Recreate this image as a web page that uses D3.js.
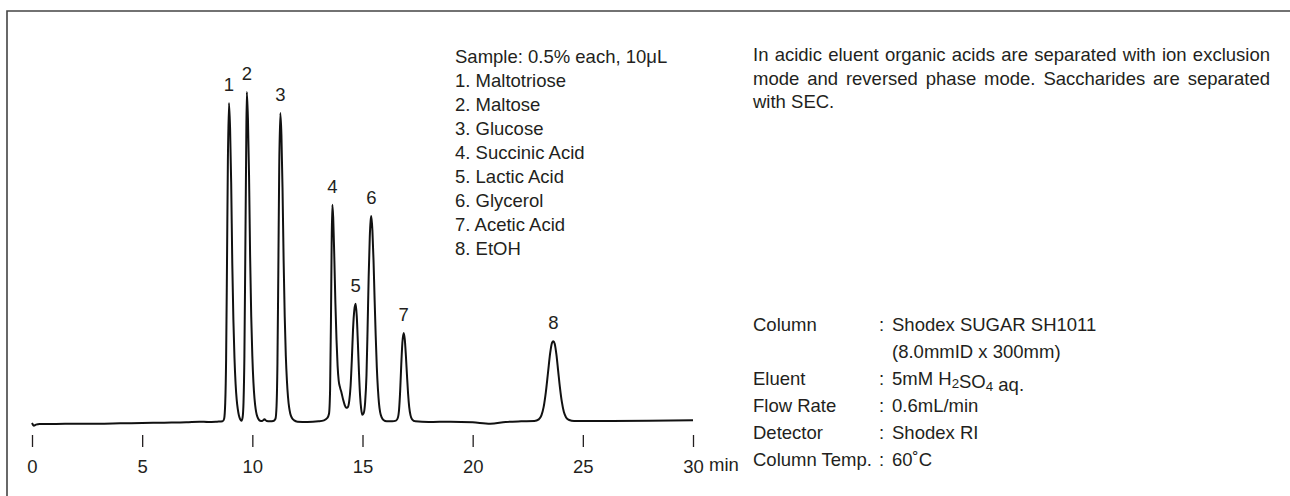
<!DOCTYPE html>
<html>
<head>
<meta charset="utf-8">
<script src="https://cdn.jsdelivr.net/npm/d3@7"></script>
<style>
  html, body { margin: 0; padding: 0; background: #fff; }
  svg { display: block; }
  text { font-family: "Liberation Sans", Arial, Helvetica, sans-serif; fill: #231f20; }
</style>
</head>
<body>
<svg id="chart" width="1290" height="496"></svg>
<script>
// ---------------- DATA ----------------
// Retention time (min) of each sampled point of the chromatogram trace
const traceTime = [
  0.00, 0.08, 0.18, 0.35, 1.0, 2.0, 3.0, 4.0, 5.0, 6.0, 7.0, 7.6, 8.0, 8.4, 8.65,
  8.72, 8.77, 8.81, 8.85, 8.89, 8.94, 8.99, 9.04, 9.09, 9.14, 9.19, 9.24, 9.29, 9.34, 9.39, 9.45, 9.51,
  9.56, 9.60, 9.64, 9.68, 9.72, 9.75, 9.80, 9.85, 9.90, 9.95, 10.00, 10.05, 10.10, 10.15, 10.20, 10.27, 10.35, 10.45, 10.55, 10.65, 10.80, 10.95,
  11.05, 11.10, 11.14, 11.18, 11.22, 11.27, 11.32, 11.37, 11.42, 11.47, 11.52, 11.57, 11.62, 11.67, 11.72, 11.80, 11.90, 12.05, 12.5, 13.0, 13.25, 13.40,
  13.48, 13.53, 13.57, 13.60, 13.63, 13.67, 13.72, 13.77, 13.82, 13.87, 13.92, 13.98, 14.05, 14.12, 14.19, 14.26,
  14.33, 14.40, 14.46, 14.52, 14.57, 14.63, 14.69, 14.74, 14.79, 14.84, 14.89, 14.94, 14.99,
  15.05, 15.12, 15.18, 15.23, 15.28, 15.33, 15.37, 15.40, 15.45, 15.50, 15.55, 15.60, 15.65, 15.70, 15.75, 15.80, 15.87, 15.95, 16.10, 16.35,
  16.52, 16.60, 16.66, 16.71, 16.76, 16.81, 16.87, 16.92, 16.97, 17.02, 17.07, 17.12, 17.18, 17.25, 17.40, 18.0, 19.0, 20.0, 20.8, 21.5, 22.2, 22.8,
  23.00, 23.12, 23.22, 23.32, 23.42, 23.52, 23.60, 23.66, 23.72, 23.80, 23.88, 23.96, 24.05, 24.14, 24.24, 24.38, 24.6, 26.0, 28.0, 30.0
];
// Detector signal (relative units, peak 2 = 100) at each time above
const traceSignal = [
  -0.3, -1.1, -0.8, -0.6, -0.6, -0.5, -0.5, -0.4, -0.3, -0.2, -0.1, 0.1, 0.0, 0.1, 0.2,
  1.0, 5.8, 19, 48, 79, 96.7, 89, 72.5, 48, 31, 19.3, 11.6, 6.8, 3.9, 2.0, 0.8, 0.4,
  1.5, 6, 20, 50, 82, 100, 92, 75, 50, 32, 20, 12, 7, 4, 2.2, 1.0, 0.4, 0.3, 0.8, 0.3, 0.2, 0.3,
  1.0, 5, 18, 46, 77, 93.6, 87, 71, 49, 32, 20, 12.5, 7.5, 4.4, 2.6, 1.2, 0.5, 0.1, 0.0, 0.2, 0.5, 1.2,
  2.5, 10, 32, 54, 65.8, 62, 50, 36, 25, 17, 12.5, 10.5, 8.8, 6.8, 5.2, 4.3,
  4.5, 6.5, 11, 19.5, 28, 34, 35.8, 32, 24, 15, 8, 4, 2.2,
  2.6, 6, 14, 28, 44, 56, 61, 62.4, 58, 49, 37, 26, 16.5, 10, 5.5, 3, 1.4, 0.6, 0.2, 0.2,
  0.4, 1.2, 3.8, 9.5, 17.5, 24, 27.0, 25, 20, 14, 8.5, 4.5, 2.0, 0.8, 0.2, 0.0, 0.1, -0.1, -0.5, 0.0, 0.2, 0.3,
  0.8, 2.0, 4.5, 9, 15, 21, 24, 24.5, 23.8, 20.5, 15.5, 10.5, 6, 3, 1.4, 0.6, 0.3, 0.3, 0.4, 0.5
];

// Peaks
const peakNumbers = ["1", "2", "3", "4", "5", "6", "7", "8"];
const peakTimes   = [8.94, 9.75, 11.27, 13.63, 14.69, 15.40, 16.87, 23.66];
const peakHeights = [96.7, 100, 93.6, 65.8, 35.8, 62.4, 27.0, 24.5];

// Axis
const xTicks = [0, 5, 10, 15, 20, 25, 30];
const xUnit = "min";

// Legend / annotations
const sampleTitle = "Sample: 0.5% each, 10\u03bcL";
const compoundNames = ["Maltotriose", "Maltose", "Glucose", "Succinic Acid", "Lactic Acid", "Glycerol", "Acetic Acid", "EtOH"];
const noteLines = [
  "In acidic eluent organic acids are separated with ion exclusion",
  "mode and reversed phase mode. Saccharides are separated",
  "with SEC."
];
const condLabels = ["Column", "", "Eluent", "Flow Rate", "Detector", "Column Temp."];
const condValues = ["Shodex SUGAR SH1011", "(8.0mmID x 300mm)", "5mM H_2SO_4 aq.", "0.6mL/min", "Shodex RI", "60\u02daC"];

// ---------------- DRAWING ----------------
const svg = d3.select("#chart");
const FONT = 18.5;

// frame (top + left border of the figure box)
svg.append("path")
  .attr("d", "M7,496 V11 H1290")
  .attr("fill", "none").attr("stroke", "#444").attr("stroke-width", 1.6);

const x = d3.scaleLinear().domain([0, 30]).range([32, 693]);
const y = d3.scaleLinear().domain([0, 100]).range([422, 92]);

// trace
const pts = traceTime.map((t, i) => [t, traceSignal[i]]);
const line = d3.line().x(d => x(d[0])).y(d => y(d[1])).curve(d3.curveMonotoneX);
svg.append("path").datum(pts)
  .attr("d", line)
  .attr("fill", "none").attr("stroke", "#111").attr("stroke-width", 2)
  .attr("stroke-linejoin", "round");

// axis (ticks detached below the trace, no domain line)
const axis = d3.axisBottom(x).tickValues(xTicks).tickSize(12).tickPadding(13).tickFormat(d3.format("d"));
const gAxis = svg.append("g").attr("transform", "translate(0,435)").call(axis);
gAxis.select(".domain").remove();
gAxis.selectAll(".tick line").attr("stroke", "#231f20").attr("stroke-width", 1.3);
gAxis.selectAll(".tick text")
  .attr("font-size", FONT).attr("font-family", "'Liberation Sans', Arial, sans-serif")
  .attr("fill", "#231f20");
svg.append("text").attr("x", x(30) + 16).attr("y", 471)
  .attr("font-size", FONT).text(xUnit);

// peak labels
svg.selectAll(".plabel").data(peakNumbers).enter().append("text")
  .attr("class", "plabel")
  .attr("x", (d, i) => x(peakTimes[i]))
  .attr("y", (d, i) => y(peakHeights[i]) - 12)
  .attr("text-anchor", "middle")
  .attr("font-size", FONT)
  .text(d => d);

// sample legend
const legend = svg.append("g").attr("transform", "translate(455,0)");
legend.append("text").attr("x", 0).attr("y", 63).attr("font-size", FONT).text(sampleTitle);
legend.selectAll(".item").data(compoundNames).enter().append("text")
  .attr("class", "item")
  .attr("x", 0).attr("y", (d, i) => 63 + 24 * (i + 1))
  .attr("font-size", FONT)
  .text((d, i) => peakNumbers[i] + ". " + d);

// justified note paragraph
const noteX0 = 753, noteX1 = 1270;
noteLines.forEach((ln, li) => {
  const yy = 61 + 23.5 * li;
  const words = ln.split(" ");
  const justify = li < noteLines.length - 1;
  const t = svg.append("text").attr("y", yy).attr("font-size", FONT);
  if (!justify) { t.attr("x", noteX0).text(ln); return; }
  const spans = words.map(w => t.append("tspan").text(w));
  const widths = spans.map(s => s.node().getComputedTextLength());
  const total = d3.sum(widths);
  const gap = (noteX1 - noteX0 - total) / (words.length - 1);
  let cx = noteX0;
  spans.forEach((s, i) => { s.attr("x", cx); cx += widths[i] + gap; });
});

// conditions table
const condY0 = 331, condStep = 27;
condLabels.forEach((lab, i) => {
  const yy = condY0 + condStep * i;
  if (lab) {
    svg.append("text").attr("x", 753).attr("y", yy).attr("font-size", FONT).text(lab);
    svg.append("text").attr("x", 879).attr("y", yy).attr("font-size", FONT).text(":");
  }
  const t = svg.append("text").attr("x", 892).attr("y", yy).attr("font-size", FONT);
  // "_n" marks a subscript digit
  const parts = condValues[i].split(/(_\d)/);
  parts.forEach(p => {
    if (p.startsWith("_")) {
      t.append("tspan").attr("font-size", FONT * 0.72).attr("dy", 3).text(p.slice(1));
      t.append("tspan").attr("dy", -3).text("");
    } else if (p) {
      t.append("tspan").text(p);
    }
  });
});
</script>
</body>
</html>
